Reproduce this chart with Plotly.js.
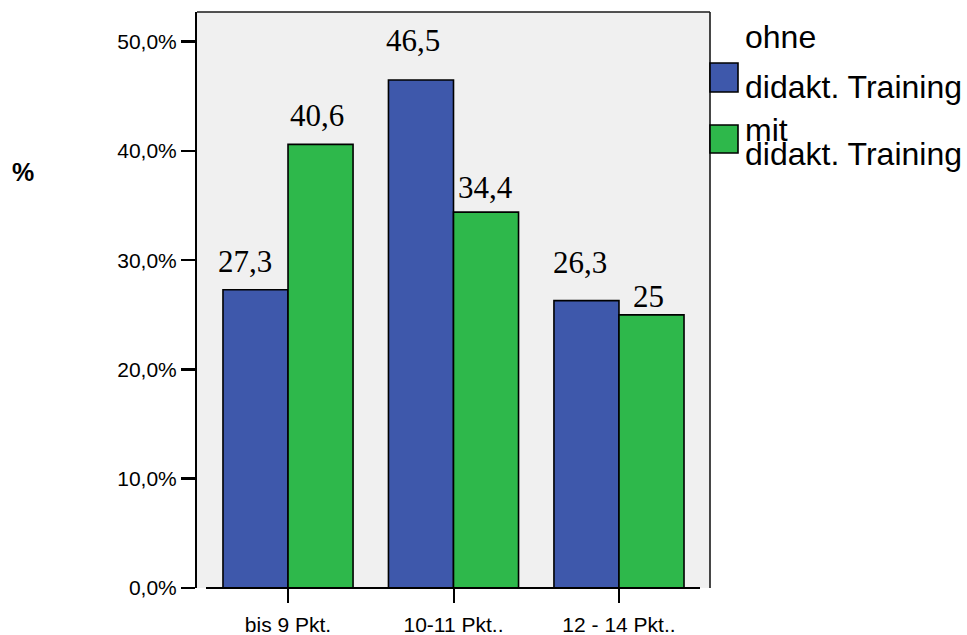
<!DOCTYPE html>
<html>
<head>
<meta charset="utf-8">
<script src="https://cdn.plot.ly/plotly-3.0.1.min.js"></script>
<style>
  html, body { margin: 0; padding: 0; background: #ffffff; }
  #chart { width: 967px; height: 635px; }
</style>
</head>
<body>
<div id="chart"></div>
<script>
// Punkte-Gruppen und Anteile (%) je Gruppe
const categories = ['bis 9 Pkt.', '10-11 Pkt..', '12 - 14 Pkt..'];
const seriesNames = ['ohne\ndidakt. Training', 'mit\ndidakt. Training'];
const ohneTraining = [27.3, 46.5, 26.3];
const mitTraining = [40.6, 34.4, 25];
const yTickValues = [0, 10, 20, 30, 40, 50];

// Styling
const BLUE = '#3e58ab';
const GREEN = '#2eb84b';
const PLOT_BG = '#f0f0f0';
const SANS = 'Liberation Sans, Arial, sans-serif';
const SERIF = 'Liberation Serif, Times New Roman, serif';

const W = 967, H = 635;
const M = { l: 197, r: 257, t: 12, b: 47 };
const plotW = W - M.l - M.r;
const plotH = H - M.t - M.b;
const px2x = p => (p - M.l) / plotW;
const px2y = p => (H - M.b - p) / plotH;

const BARGAP = 0.214;
const halfBar = (1 - BARGAP) / 4;   // offset of each bar centre from the category centre

// small nudges (px) for each value label: [dx, dy], series by series
const labelNudge = [
  [[-11, 9], [-8, 20], [-6, 19]],
  [[-4, 9], [-1, 5], [-3, -1]]
];

const fmt = v => String(v).replace('.', ',');

const series = [ohneTraining, mitTraining];
const colors = [BLUE, GREEN];

const traces = series.map((vals, s) => ({
  type: 'bar',
  x: categories,
  y: vals,
  name: seriesNames[s],
  marker: { color: colors[s], line: { color: '#000000', width: 1.6 } },
  hoverinfo: 'x+y',
  showlegend: false
}));

const annotations = [];
series.forEach((vals, s) => {
  vals.forEach((v, i) => {
    annotations.push({
      x: i + (s === 0 ? -halfBar : halfBar),
      y: v,
      xref: 'x', yref: 'y',
      text: fmt(v),
      showarrow: false,
      xanchor: 'center', yanchor: 'bottom',
      xshift: labelNudge[s][i][0],
      yshift: labelNudge[s][i][1],
      font: { family: SERIF, size: 31, color: '#000000' }
    });
  });
});

// y-axis caption
annotations.push({
  x: px2x(23), y: px2y(172), xref: 'paper', yref: 'paper',
  text: '<b>%</b>', showarrow: false, xanchor: 'center', yanchor: 'middle',
  font: { family: SANS, size: 25, color: '#000000' }
});

// legend texts
const legendLines = [
  { text: 'ohne', y: 37 },
  { text: 'didakt. Training', y: 87 },
  { text: 'mit', y: 130 },
  { text: 'didakt. Training', y: 154 }
];
legendLines.forEach(l => {
  annotations.push({
    x: px2x(743), y: px2y(l.y), xref: 'paper', yref: 'paper',
    text: l.text, showarrow: false, xanchor: 'left', yanchor: 'middle',
    font: { family: SANS, size: 32, color: '#000000' }
  });
});

const shapes = [
  // frame: top and right edges
  { type: 'line', xref: 'paper', yref: 'paper', x0: 0, x1: 1, y0: 1, y1: 1,
    line: { color: '#1a1a1a', width: 1.6 } },
  { type: 'line', xref: 'paper', yref: 'paper', x0: 1, x1: 1, y0: 0, y1: 1,
    line: { color: '#1a1a1a', width: 1.6 } },
  // category axis baseline
  { type: 'line', xref: 'paper', yref: 'paper', x0: px2x(206), x1: px2x(700), y0: 0, y1: 0,
    line: { color: '#000000', width: 2 } },
  // legend swatches
  { type: 'rect', xref: 'paper', yref: 'paper',
    x0: px2x(710), x1: px2x(738), y0: px2y(92), y1: px2y(63),
    fillcolor: BLUE, line: { color: '#000000', width: 1.6 } },
  { type: 'rect', xref: 'paper', yref: 'paper',
    x0: px2x(710), x1: px2x(738), y0: px2y(153), y1: px2y(125),
    fillcolor: GREEN, line: { color: '#000000', width: 1.6 } }
];

const layout = {
  width: W, height: H,
  margin: M,
  paper_bgcolor: '#ffffff',
  plot_bgcolor: PLOT_BG,
  barmode: 'group',
  bargap: BARGAP,
  bargroupgap: 0,
  showlegend: false,
  xaxis: {
    type: 'category',
    range: [-0.55, 2.55],
    showline: false,
    showgrid: false,
    zeroline: false,
    ticks: 'outside',
    ticklen: 14,
    tickwidth: 2,
    tickcolor: '#000000',
    ticklabelstandoff: 4,
    tickfont: { family: SANS, size: 21, color: '#000000' },
    fixedrange: true
  },
  yaxis: {
    range: [0, 52.72],
    showline: true,
    linecolor: '#000000',
    linewidth: 2,
    showgrid: false,
    zeroline: false,
    ticks: 'outside',
    ticklen: 14,
    tickwidth: 2.5,
    tickcolor: '#000000',
    tickvals: yTickValues,
    ticktext: yTickValues.map(v => v.toFixed(1).replace('.', ',') + '%'),
    tickfont: { family: SANS, size: 21, color: '#000000' },
    fixedrange: true
  },
  annotations: annotations,
  shapes: shapes
};

Plotly.newPlot('chart', traces, layout, { displayModeBar: false, staticPlot: true });
</script>
</body>
</html>
